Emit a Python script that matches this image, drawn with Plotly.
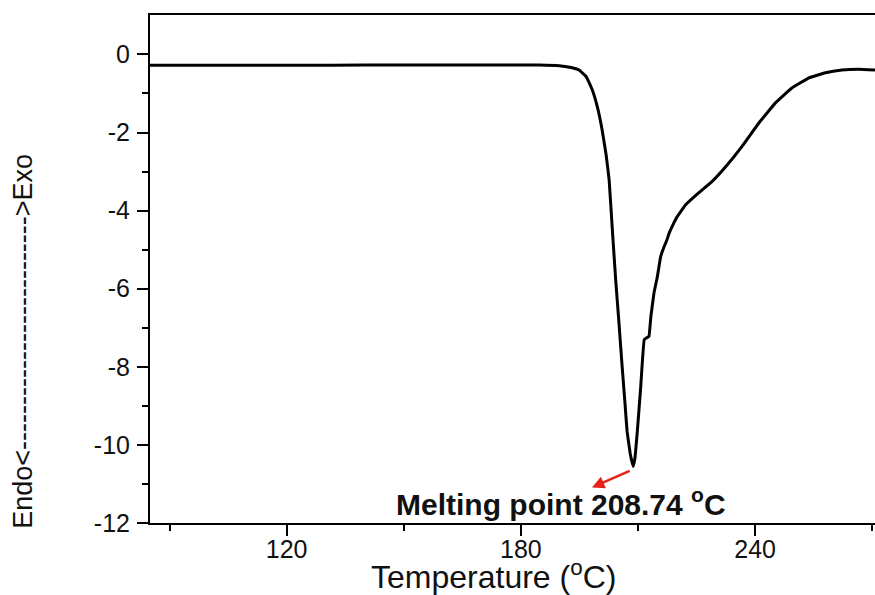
import plotly.graph_objects as go

# DSC curve
temperature = [85, 110, 123.3, 140, 154, 170, 184.7, 189.8, 192.5, 194.9, 196.8, 198.3, 199.6, 200.8,
               201.8, 202.6, 203.4, 204.3, 205.1, 205.9, 206.6, 207.2, 208.0, 208.74, 209.2,
               209.8, 210.7, 211.6, 212.3, 212.8, 213.3, 214.1, 214.9, 215.8, 216.7, 217.3,
               218.0, 219.0, 220.0, 222.2, 225.6, 229.0, 232.5, 236.6, 241.0, 245.2, 249.4,
               253.8, 258.0, 262.2, 266.5, 270.7]
heat_flow = [-0.28, -0.28, -0.28, -0.27, -0.27, -0.27, -0.27, -0.29, -0.33, -0.40, -0.58, -0.91, -1.35, -1.93,
             -2.55, -3.21, -4.45, -5.80, -6.85, -7.95, -8.85, -9.65, -10.22, -10.55, -10.35,
             -9.68, -8.50, -7.30, -7.25, -7.22, -6.71, -6.10, -5.72, -5.18, -4.92, -4.78,
             -4.57, -4.35, -4.16, -3.85, -3.54, -3.25, -2.87, -2.36, -1.75, -1.24, -0.86,
             -0.60, -0.47, -0.40, -0.38, -0.40]

x_major = [120, 180, 240]
x_minor = [90, 150, 210, 270]
y_major = [0, -2, -4, -6, -8, -10, -12]
y_minor = [-1, -3, -5, -7, -9, -11]

melting_label = "Melting point 208.74 <sup>o</sup>C"
peak_T, peak_v = 208.74, -10.55

FONT = "Liberation Sans, Arial, sans-serif"

fig = go.Figure()
fig.add_trace(go.Scatter(
    x=temperature, y=heat_flow, mode="lines",
    line=dict(color="black", width=3, shape="spline", smoothing=0.25),
    hoverinfo="skip", showlegend=False))

fig.update_xaxes(
    range=[85, 270.7], tickvals=x_major, ticktext=[str(v) for v in x_major],
    ticks="outside", ticklen=11, tickwidth=2, tickcolor="black",
    minor=dict(tickvals=x_minor, ticks="outside", ticklen=6, tickwidth=2, tickcolor="black"),
    showline=True, linecolor="black", linewidth=2, mirror=True,
    showgrid=False, zeroline=False,
    tickfont=dict(family=FONT, size=25, color="#111"), ticklabelstandoff=-8)
fig.update_yaxes(
    range=[-12, 1.01], tickvals=y_major, ticktext=[str(v) for v in y_major],
    ticks="outside", ticklen=11, tickwidth=2, tickcolor="black",
    minor=dict(tickvals=y_minor, ticks="outside", ticklen=6, tickwidth=2, tickcolor="black"),
    showline=True, linecolor="black", linewidth=2, mirror=False,
    showgrid=False, zeroline=False,
    tickfont=dict(family=FONT, size=25, color="#111"), ticklabelstandoff=2)

annotations = [
    dict(xref="paper", yref="paper", x=0.474, y=-0.103, text="Temperature (<sup>o</sup>C)",
         showarrow=False, xanchor="center", yanchor="middle",
         font=dict(family=FONT, size=32, color="#111")),
    dict(xref="paper", yref="paper", x=-0.175, y=0.357, text="Endo<" + "-" * 26 + ">Exo",
         showarrow=False, xanchor="center", yanchor="middle", textangle=-90,
         font=dict(family=FONT, size=27, color="#111")),
    dict(xref="x", yref="y", x=190.3, y=-11.45, text="<b>" + melting_label + "</b>",
         showarrow=False, xanchor="center", yanchor="middle",
         font=dict(family=FONT, size=30, color="#111")),
    dict(xref="x", yref="y", x=198.2, y=-11.09, axref="x", ayref="y",
         ax=peak_T - 0.5, ay=peak_v - 0.1, text="", showarrow=True,
         arrowhead=2, arrowsize=1, arrowwidth=2.5, arrowcolor="#e8201a"),
]

fig.update_layout(
    width=875, height=595, autosize=False,
    margin=dict(l=150, r=0, t=15, b=72),
    paper_bgcolor="white", plot_bgcolor="white",
    annotations=annotations, showlegend=False)

fig.write_html("out.html", config={"displayModeBar": False})
